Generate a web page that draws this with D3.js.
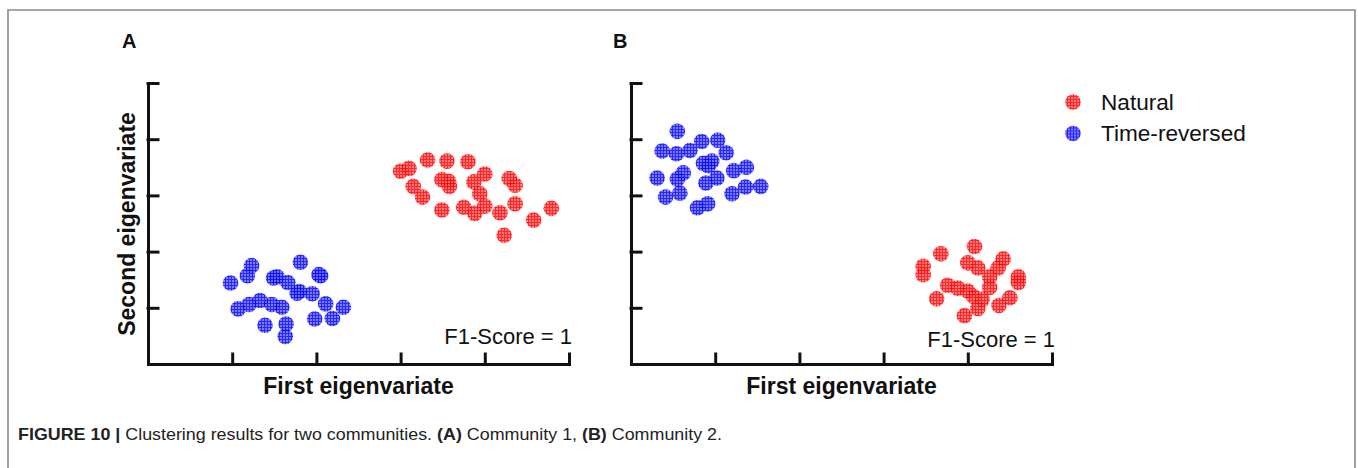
<!DOCTYPE html>
<html><head><meta charset="utf-8">
<script src="https://cdn.jsdelivr.net/npm/d3@7"></script>
<style>html,body{margin:0;padding:0;background:#fff;}svg{display:block;}</style>
</head><body>
<svg id="chart" width="1358" height="468"></svg>
<script>
// ---- Data ----
const xTicks = [1, 2, 3, 4, 5];
const yTicks = [1, 2, 3, 4, 5];
const seriesNames = ["Natural", "Time-reversed"];

// Panel A – Community 1
const aNaturalX = [3.00,3.10,3.32,3.55,3.80,4.00,3.49,3.57,3.58,3.87,3.94,4.29,4.36,3.15,3.26,3.49,3.75,3.88,4.00,4.18,4.36,4.58,4.79,4.23];
const aNaturalY = [3.43,3.48,3.63,3.61,3.60,3.38,3.28,3.25,3.16,3.24,3.03,3.30,3.18,3.16,2.97,2.74,2.79,2.68,2.81,2.69,2.85,2.56,2.77,2.29];
const aReversedX = [0.98,1.23,1.18,1.49,1.53,1.66,1.81,2.03,2.05,1.80,1.77,1.95,1.07,1.20,1.33,1.47,1.59,2.11,2.32,1.39,1.64,1.63,1.98,2.19];
const aReversedY = [1.44,1.75,1.57,1.53,1.55,1.45,1.81,1.59,1.57,1.29,1.26,1.25,0.98,1.06,1.13,1.06,1.01,1.07,1.01,0.69,0.71,0.49,0.80,0.81];

// Panel B – Community 2
const bNaturalX = [3.68,4.08,3.47,3.47,4.00,4.12,4.42,4.36,4.26,4.60,4.60,3.76,3.88,4.00,4.07,3.63,4.17,4.12,3.96,4.37,4.50,4.26];
const bNaturalY = [1.96,2.09,1.74,1.59,1.80,1.71,1.87,1.71,1.55,1.55,1.45,1.40,1.35,1.30,1.20,1.16,1.15,0.99,0.86,1.04,1.18,1.36];
const bReversedX = [0.55,0.37,0.54,0.70,0.84,1.03,1.13,0.86,0.96,0.92,0.31,0.55,0.62,0.89,1.02,1.22,1.37,0.41,0.58,0.79,0.91,1.20,1.36,1.54];
const bReversedY = [4.14,3.79,3.74,3.80,3.96,3.98,3.76,3.57,3.61,3.53,3.31,3.29,3.40,3.22,3.31,3.44,3.50,2.97,3.04,2.78,2.85,3.03,3.15,3.16];

const FONT = "'Liberation Sans', Arial, Helvetica, sans-serif";
const svg = d3.select("#chart");

// frame
svg.append("path").attr("d", "M8,468 V10 H1355 V468")
  .attr("fill", "none").attr("stroke", "#8a8a8a").attr("stroke-width", 1.6);

// hatched patterns
const defs = svg.append("defs");
function makePattern(id, base, line) {
  const p = defs.append("pattern").attr("id", id).attr("patternUnits", "userSpaceOnUse")
    .attr("width", 3).attr("height", 3);
  p.append("rect").attr("width", 3).attr("height", 3).attr("fill", base);
  p.append("path").attr("d", "M0,0.5 H3 M0.5,0 V3").attr("stroke", line).attr("stroke-width", 1);
}
makePattern("hatchRed", "#ff6a6a", "#ff0a0a");
makePattern("hatchBlue", "#6a6aff", "#0a0aff");
const fills = { "Natural": "url(#hatchRed)", "Time-reversed": "url(#hatchBlue)" };

const zip = (xs, ys) => xs.map((x, i) => ({ x, y: ys[i] }));

function panel(opts) {
  const x = d3.scaleLinear().domain([0, 5]).range(opts.xRange);
  const y = d3.scaleLinear().domain([0, 5]).range([364, 83]);
  const g = svg.append("g");

  // points
  [["Natural", opts.natural], ["Time-reversed", opts.reversed]].forEach(([name, pts]) => {
    g.append("g").selectAll("circle").data(pts).join("circle")
      .attr("cx", d => x(d.x)).attr("cy", d => y(d.y)).attr("r", 7.8)
      .attr("fill", fills[name]).attr("opacity", 0.88);
  });

  // axes
  const yAxis = d3.axisRight(y).tickValues(yTicks).tickSize(10).tickSizeOuter(0).tickFormat("");
  const xAxis = d3.axisTop(x).tickValues(xTicks).tickSize(10).tickSizeOuter(0).tickFormat("");
  const ya = g.append("g").attr("transform", `translate(${opts.xRange[0]},0)`).call(yAxis);
  const xa = g.append("g").attr("transform", `translate(0,364)`).call(xAxis);
  [ya, xa].forEach(a => {
    a.selectAll("path,line").attr("stroke", "#111").attr("stroke-width", 3).attr("stroke-linecap", "square");
  });

  // labels
  const cx = (opts.xRange[0] + opts.xRange[1]) / 2;
  g.append("text").attr("x", cx).attr("y", 394).attr("text-anchor", "middle")
    .attr("font-family", FONT).attr("font-weight", "bold").attr("font-size", 23)
    .attr("fill", "#111").text("First eigenvariate");
  g.append("text").attr("x", opts.xRange[1] + 3).attr("y", opts.f1y).attr("text-anchor", "end")
    .attr("font-family", FONT).attr("font-size", 22).attr("fill", "#111").text("F1-Score = 1");
  g.append("text").attr("x", opts.letterX).attr("y", 48)
    .attr("font-family", FONT).attr("font-weight", "bold").attr("font-size", 20)
    .attr("fill", "#111").text(opts.letter);
}

panel({ xRange: [148, 569], natural: zip(aNaturalX, aNaturalY), reversed: zip(aReversedX, aReversedY), letter: "A", letterX: 122, f1y: 344 });
panel({ xRange: [631, 1052], natural: zip(bNaturalX, bNaturalY), reversed: zip(bReversedX, bReversedY), letter: "B", letterX: 613, f1y: 347 });

// y label (panel A only)
svg.append("text").attr("transform", "translate(135,224) rotate(-90)").attr("text-anchor", "middle")
  .attr("font-family", FONT).attr("font-weight", "bold").attr("font-size", 23)
  .attr("fill", "#111").text("Second eigenvariate");

// legend
const leg = svg.append("g").selectAll("g").data(seriesNames).join("g")
  .attr("transform", (d, i) => `translate(1073,${102 + i * 31.5})`);
leg.append("circle").attr("r", 7.8).attr("fill", d => fills[d]).attr("opacity", 0.88);
leg.append("text").attr("x", 28).attr("y", 7.5).attr("font-family", FONT).attr("font-size", 22.6)
  .attr("fill", "#111").text(d => d);

// caption
const cap = svg.append("text").attr("x", 18).attr("y", 440).attr("font-family", FONT)
  .attr("font-size", 16.5).attr("fill", "#222");
cap.append("tspan").attr("font-weight", "bold").text("FIGURE 10 | ");
cap.append("tspan").text("Clustering results for two communities. ");
cap.append("tspan").attr("font-weight", "bold").text("(A)");
cap.append("tspan").text(" Community 1, ");
cap.append("tspan").attr("font-weight", "bold").text("(B)");
cap.append("tspan").text(" Community 2.");
cap.attr("textLength", 704).attr("lengthAdjust", "spacingAndGlyphs");
</script>
</body></html>
